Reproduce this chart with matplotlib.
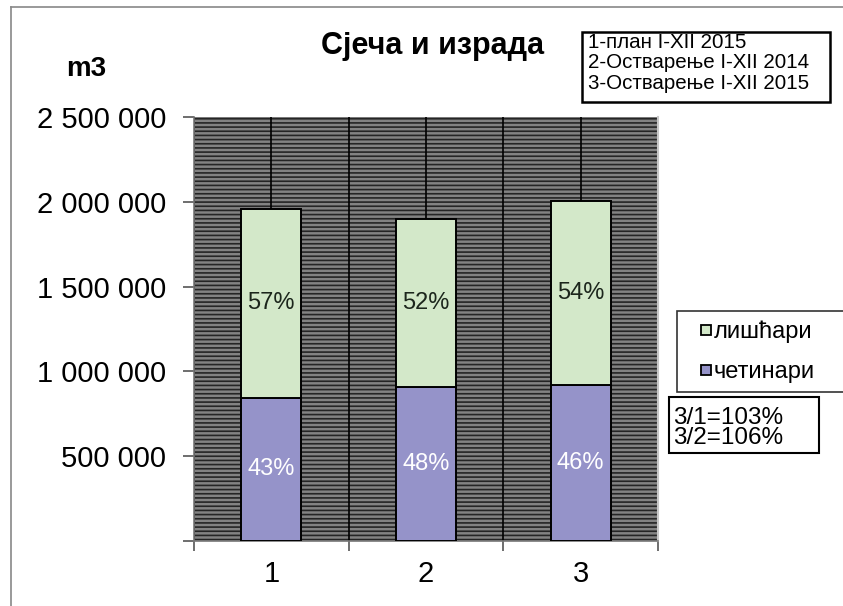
import matplotlib
matplotlib.use("Agg")
import matplotlib.pyplot as plt
import numpy as np
from matplotlib.lines import Line2D
from matplotlib.patches import Rectangle
from matplotlib.ticker import FixedLocator, FuncFormatter

categories = ["1", "2", "3"]
cetinari = [845000, 910000, 922000]
liscari = [1112000, 987000, 1083000]
cetinari_pct = ["43%", "48%", "46%"]
liscari_pct = ["57%", "52%", "54%"]
series_names = ["лишћари", "четинари"]
notes = ["1-план I-XII 2015", "2-Остварење I-XII 2014", "3-Остварење I-XII 2015"]
ratios = ["3/1=103%", "3/2=106%"]
y_ticks = [0, 500000, 1000000, 1500000, 2000000, 2500000]

COL_CET = "#9593c9"
COL_LIS = "#d3e8c9"

plt.rcParams["font.family"] = ["Liberation Sans", "DejaVu Sans"]
plt.rcParams["hatch.linewidth"] = 1.2

W, H = 843, 606


def fx(px):
    return px / W


def fy(px):
    return 1 - px / H


fig = plt.figure(figsize=(W / 100, H / 100), dpi=100)
ax = fig.add_axes([fx(194), fy(541), (658 - 194) / W, (541 - 117) / H])

ax.patch.set_facecolor("#828282")
ax.patch.set_hatch("----")
ax.patch.set_edgecolor("#252525")
ax.patch.set_linewidth(0)

x = np.arange(1, len(categories) + 1)
bw = 0.39
ax.bar(x, cetinari, bw, color=COL_CET, edgecolor="black", lw=1.4, zorder=3)
ax.bar(x, liscari, bw, bottom=cetinari, color=COL_LIS, edgecolor="black", lw=1.4, zorder=3)

for xi, c, l, pc, pl in zip(x, cetinari, liscari, cetinari_pct, liscari_pct):
    ax.text(xi, c / 2, pc, ha="center", va="center", color="white", fontsize=17, zorder=4)
    ax.text(xi, c + l / 2, pl, ha="center", va="center", color="#1c261c", fontsize=17, zorder=4)

ax.set_xlim(0.5, 3.5)
ax.set_ylim(0, 2500000)
ax.set_xticks(x)
ax.set_xticklabels(categories, fontsize=21)
ax.xaxis.set_minor_locator(FixedLocator([0.5, 1.5, 2.5, 3.5]))
ax.tick_params(axis="x", which="major", length=0, pad=14)
ax.tick_params(axis="x", which="minor", length=7, width=1.2, color="#555555")
ax.set_yticks(y_ticks)
ax.yaxis.set_major_formatter(FuncFormatter(lambda v, p: "" if v == 0 else f"{int(v):,}".replace(",", " ")))
ax.tick_params(axis="y", length=8, width=1.2, color="#555555", pad=12, labelsize=21)
ax.grid(axis="x", which="both", color="black", lw=1.2, zorder=1)
ax.set_axisbelow(True)
ax.spines["top"].set_visible(False)
ax.spines["right"].set_color("#c8c8c8")
ax.spines["right"].set_linewidth(1.5)
for s in ["left", "bottom"]:
    ax.spines[s].set_color("#777777")
    ax.spines[s].set_linewidth(1.2)

fig.text(fx(433), fy(46), "Сјеча и израда", ha="center", va="center", fontsize=22, fontweight="bold")
fig.text(fx(86), fy(69), "m3", ha="center", va="center", fontsize=20, fontweight="bold")

# note box with the meaning of 1, 2, 3
fig.add_artist(Rectangle((fx(582), fy(102)), (830 - 582) / W, 70 / H, transform=fig.transFigure,
                         facecolor="white", edgecolor="black", lw=1.8))
fig.text(fx(588), fy(63), "\n".join(notes), ha="left", va="center", fontsize=14.8, linespacing=1.12)

# ratio box
fig.add_artist(Rectangle((fx(669), fy(453)), (819 - 669) / W, 56 / H, transform=fig.transFigure,
                         facecolor="white", edgecolor="black", lw=1.5))
fig.text(fx(673), fy(428), "\n".join(ratios), ha="left", va="center", fontsize=17.5, linespacing=0.87)

handles = [Line2D([], [], ls="none", marker="s", markersize=7, markerfacecolor=col, markeredgecolor="black",
                  markeredgewidth=1.3) for col in [COL_LIS, COL_CET]]
leg = fig.legend(handles, series_names, loc="upper left", mode="expand",
                 bbox_to_anchor=(fx(677), fy(390), (860 - 677) / W, 79 / H),
                 fontsize=17, frameon=True, fancybox=False, edgecolor="black", handlelength=1.65,
                 handletextpad=-0.48, labelspacing=0.76, borderpad=0.4, borderaxespad=0)
leg.get_frame().set_linewidth(1.2)

fig.add_artist(Line2D([fx(11), fx(11)], [0, fy(7)], transform=fig.transFigure, color="#888888", lw=1.2))
fig.add_artist(Line2D([fx(11), 1], [fy(7), fy(7)], transform=fig.transFigure, color="#888888", lw=1.2))

fig.savefig("out.png", dpi=100)
